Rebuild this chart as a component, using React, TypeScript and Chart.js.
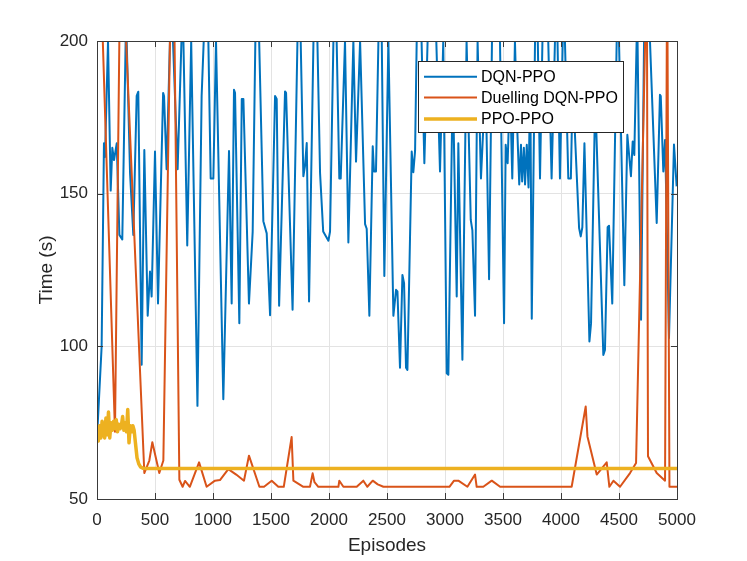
import React, { useEffect, useRef } from "react";
import { Chart, registerables } from "chart.js";

Chart.register(...registerables);

// DQN-PPO (blue)
const dqnEpisodes = [
  0, 40, 60, 69, 95, 118, 132, 147, 170, 193, 218, 247, 256, 285, 313, 342, 356, 385, 408, 437,
  457, 471, 500, 526, 570, 578, 600, 629, 655, 695, 728, 745, 778, 812, 866, 902, 920, 960, 980, 1003,
  1026, 1089, 1138, 1161, 1181, 1190, 1227, 1248, 1262, 1310, 1342, 1365, 1398, 1434, 1463, 1492, 1535, 1549, 1570, 1621,
  1630, 1686, 1728, 1756, 1779, 1793, 1808, 1828, 1866, 1900, 1923, 1950, 1995, 2009, 2038, 2066, 2089, 2101, 2138, 2167,
  2210, 2233, 2240, 2268, 2311, 2325, 2348, 2377, 2388, 2405, 2426, 2455, 2477, 2512, 2555, 2578, 2590, 2612, 2633, 2647,
  2664, 2676, 2713, 2727, 2742, 2756, 2798, 2822, 2850, 2925, 2957, 2985, 3015, 3029, 3067, 3101, 3115, 3150, 3186, 3222,
  3236, 3259, 3281, 3310, 3350, 3380, 3405, 3440, 3474, 3509, 3523, 3540, 3560, 3580, 3603, 3624, 3640, 3655, 3665, 3680,
  3690, 3705, 3720, 3735, 3748, 3776, 3800, 3819, 3840, 3890, 3919, 3948, 3970, 3991, 4015, 4034, 4063, 4085, 4101, 4156,
  4170, 4184, 4202, 4245, 4259, 4295, 4365, 4379, 4402, 4414, 4442, 4480, 4500, 4546, 4572, 4603, 4618, 4632, 4652, 4660,
  4690, 4716, 4767, 4825, 4853, 4860, 4882, 4897, 4903, 4931, 4974, 4997,
];
const dqnTime = [
  70, 100, 166.5, 162, 200, 151, 165, 161, 166.5, 136.5, 135, 200, 200, 156.7, 136.5, 182, 183.4, 94, 164.3, 110,
  124.5, 116.3, 163.8, 114, 183, 182, 158, 200, 200, 158, 200, 200, 133, 200, 80.5, 182, 200, 200, 155, 155,
  200, 82.7, 164, 114, 184, 183, 107.6, 181, 181, 114, 137.5, 200, 200, 141, 137, 110.2, 182, 181, 113.3, 183.5,
  183, 112, 200, 200, 155.7, 159, 166.6, 114.7, 200, 200, 156.7, 137.6, 134.6, 137.6, 200, 200, 155, 155, 200, 134,
  200, 160.5, 160.5, 200, 140, 138.5, 110, 165.5, 157.3, 157.3, 200, 200, 123, 200, 110, 118.5, 118, 93, 123.4, 120.7,
  93, 92.3, 163.8, 157, 164, 200, 200, 160, 200, 200, 157.3, 200, 91.2, 90.7, 188, 116.3, 166.5, 95.6, 200, 141.4,
  138, 110, 200, 155, 188, 122, 200, 200, 200, 107.6, 166, 160, 186, 155, 200, 170, 153, 166, 154, 165,
  153, 166, 152, 188, 109, 200, 200, 155, 200, 200, 155, 200, 200, 155, 200, 200, 155, 155, 186, 138.7,
  136, 139, 166.5, 101.6, 107.6, 182, 97.2, 98.8, 139, 139.5, 114, 200, 200, 120, 169.3, 155.7, 167.1, 162.7, 200, 200,
  108.7, 200, 200, 140.4, 182.4, 182, 157.3, 167.6, 157, 102.7, 166.1, 152.4,
];

// Duelling DQN-PPO (orange)
const duelEpisodes = [
  0, 155, 200, 240, 408, 451, 477, 537, 572, 640, 660, 710, 738, 759, 800, 880, 945, 1017, 1060, 1132,
  1200, 1267, 1310, 1400, 1440, 1506, 1563, 1610, 1678, 1693, 1779, 1836, 1859, 1875, 1908, 2081, 2089, 2124, 2239, 2296,
  2330, 2377, 2420, 2469, 3038, 3078, 3115, 3193, 3259, 3273, 3330, 3403, 3475, 4092, 4213, 4228, 4308, 4394, 4417, 4452,
  4509, 4595, 4647, 4740, 4750, 4825, 4897, 4915, 4935, 5000,
];
const duelTime = [
  261, 72, 225, 210, 58.5, 62.6, 68.6, 58.5, 62.6, 227, 230, 56.3, 54, 55.9, 54, 62, 54, 56, 56.2, 59.8,
  58, 56, 64.2, 54, 54, 56, 54, 54, 70.3, 56, 54, 54, 58.4, 55.5, 54, 54, 56, 54, 54, 56,
  54, 56, 54.8, 54, 54, 56, 56, 54, 58, 54, 54, 56, 54, 54, 80.3, 70.5, 58, 62, 54, 56,
  54, 58.5, 61.8, 226, 64, 58.5, 56, 229, 54, 54,
];

// PPO-PPO (yellow)
const ppoEpisodes = [
  0, 11, 22, 33, 44, 55, 66, 77, 88, 99, 110, 121, 132, 143, 155, 166, 177, 188, 199, 210,
  221, 232, 243, 254, 265, 276, 287, 298, 309, 320, 331, 345, 360, 375, 395, 420, 5000,
];
const ppoTime = [
  71, 69, 74, 70, 75.5, 72, 70, 76.5, 71, 78.5, 70, 75, 72.5, 75.5, 73, 76, 72, 74.5, 73, 74,
  77, 72.5, 75, 72, 79.3, 68.4, 74, 72, 74, 72.5, 68.5, 63.5, 61.5, 60.5, 60.1, 60, 60,
];

const xTicks = [0, 500, 1000, 1500, 2000, 2500, 3000, 3500, 4000, 4500, 5000];
const yTicks = [50, 100, 150, 200];
const seriesNames = ["DQN-PPO", "Duelling DQN-PPO", "PPO-PPO"];

const FONT = "'Liberation Sans', Arial, Helvetica, sans-serif";
const TEXT = "#262626";

const toPoints = (xs: number[], ys: number[]) => xs.map((x, i) => ({ x, y: ys[i] }));

const matlabFrame = {
  id: "matlabFrame",
  afterDraw(chart: any) {
    const { ctx, chartArea: a } = chart;
    const xs = chart.scales.x;
    const ys = chart.scales.y;
    ctx.save();
    // axes box with inward ticks
    ctx.strokeStyle = "#3a3a3a";
    ctx.lineWidth = 1;
    ctx.strokeRect(Math.round(a.left) + 0.5, Math.round(a.top) + 0.5, Math.round(a.right - a.left), Math.round(a.bottom - a.top));
    ctx.beginPath();
    xTicks.forEach((v) => {
      const px = Math.round(xs.getPixelForValue(v)) + 0.5;
      ctx.moveTo(px, a.bottom);
      ctx.lineTo(px, a.bottom - 6);
      ctx.moveTo(px, a.top);
      ctx.lineTo(px, a.top + 6);
    });
    yTicks.forEach((v) => {
      const py = Math.round(ys.getPixelForValue(v)) + 0.5;
      ctx.moveTo(a.left, py);
      ctx.lineTo(a.left + 6, py);
      ctx.moveTo(a.right, py);
      ctx.lineTo(a.right - 6, py);
    });
    ctx.stroke();

    // legend box inside the axes
    const bx = 418.5, by = 61.5, bw = 205, bh = 71;
    ctx.fillStyle = "#ffffff";
    ctx.fillRect(bx, by, bw, bh);
    ctx.strokeStyle = "#262626";
    ctx.strokeRect(bx, by, bw, bh);
    const rows = [76.7, 97.5, 119];
    ctx.font = `16px ${FONT}`;
    ctx.textBaseline = "middle";
    ctx.textAlign = "left";
    chart.data.datasets.forEach((ds: any, i: number) => {
      ctx.strokeStyle = ds.borderColor;
      ctx.lineWidth = ds.borderWidth;
      ctx.beginPath();
      ctx.moveTo(424, rows[i]);
      ctx.lineTo(477, rows[i]);
      ctx.stroke();
      ctx.fillStyle = "#000000";
      ctx.fillText(ds.label, 481, rows[i] + 1);
    });
    ctx.restore();
  },
};

export default function App() {
  const canvasRef = useRef<HTMLCanvasElement>(null);
  const chartRef = useRef<Chart | null>(null);

  useEffect(() => {
    document.body.style.margin = "0";
    if (!canvasRef.current) return;
    if (chartRef.current) chartRef.current.destroy();

    chartRef.current = new Chart(canvasRef.current, {
      type: "line",
      data: {
        datasets: [
          {
            label: seriesNames[0],
            data: toPoints(dqnEpisodes, dqnTime),
            borderColor: "#0072BD",
            borderWidth: 2,
            order: 2,
          },
          {
            label: seriesNames[1],
            data: toPoints(duelEpisodes, duelTime),
            borderColor: "#D95319",
            borderWidth: 2,
            order: 1,
          },
          {
            label: seriesNames[2],
            data: toPoints(ppoEpisodes, ppoTime),
            borderColor: "#EDB120",
            borderWidth: 3.5,
            order: 0,
          },
        ],
      },
      options: {
        animation: false,
        responsive: true,
        maintainAspectRatio: false,
        layout: { padding: { top: 41, right: 70, bottom: 0, left: 0 } },
        elements: {
          point: { radius: 0 },
          line: { tension: 0, borderJoinStyle: "round" },
        },
        plugins: {
          legend: { display: false },
          tooltip: { enabled: false },
        },
        scales: {
          x: {
            type: "linear",
            min: 0,
            max: 5000,
            afterFit: (s: any) => {
              s.height = 62;
            },
            afterBuildTicks: (s: any) => {
              s.ticks = xTicks.map((v) => ({ value: v }));
            },
            ticks: {
              color: TEXT,
              font: { family: FONT, size: 17 },
              padding: 11,
              maxRotation: 0,
              autoSkip: false,
              callback: (v: any) => String(v),
            },
            grid: { color: "#e3e3e3", drawTicks: false },
            border: { display: false },
            title: {
              display: true,
              text: "Episodes",
              color: TEXT,
              font: { family: FONT, size: 19 },
              padding: { top: 0, bottom: 4 },
            },
          },
          y: {
            type: "linear",
            min: 50,
            max: 200,
            afterFit: (s: any) => {
              s.width = 97;
            },
            afterBuildTicks: (s: any) => {
              s.ticks = yTicks.map((v) => ({ value: v }));
            },
            ticks: {
              color: TEXT,
              font: { family: FONT, size: 17 },
              padding: 9,
              callback: (v: any) => String(v),
            },
            grid: { color: "#e3e3e3", drawTicks: false },
            border: { display: false },
            title: {
              display: true,
              text: "Time (s)",
              color: TEXT,
              font: { family: FONT, size: 19 },
              padding: { top: 35, bottom: 0 },
            },
          },
        },
      },
      plugins: [matlabFrame],
    });

    return () => {
      if (chartRef.current) {
        chartRef.current.destroy();
        chartRef.current = null;
      }
    };
  }, []);

  return (
    <div style={{ position: "relative", width: 747, height: 561 }}>
      <canvas ref={canvasRef} />
    </div>
  );
}
